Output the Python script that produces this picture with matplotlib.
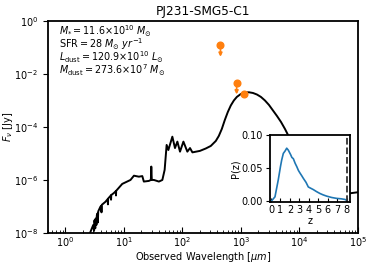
import matplotlib
matplotlib.use("Agg")
import matplotlib.pyplot as plt
from matplotlib.ticker import FixedLocator, NullLocator, LogLocator, LogFormatterMathtext

# SED model (observed wavelength in micron, flux in Jy)
sed_wave = [2.48, 2.69, 3.0, 3.1, 3.15, 3.25, 3.3, 3.4, 3.45, 3.55, 3.6, 3.65,
            3.98, 4.1, 4.15, 4.2, 4.85, 5.3, 5.35, 5.4, 6.0, 6.05, 6.1, 6.74,
            7.3, 7.35, 7.4, 9.4, 13.0, 14.9, 18.1, 20.7, 22.0, 26.8, 29.0,
            29.5, 30.1, 32.7, 39.8, 45.6, 49.9, 54.0, 57.8, 67.6, 75.0, 82.4,
            91.4, 104.5, 122, 135.5, 149, 200, 252, 307, 374, 421, 474, 534,
            601, 676, 762, 857, 1004, 1176, 1377, 1614, 1889, 2213, 2590,
            3034, 3553, 4160, 4873, 5706, 6423, 8810, 16000, 35000, 63000,
            107000]
sed_flux = [5.5e-9, 1.1e-8, 2.0e-8, 1.2e-8, 3.0e-8, 1.5e-8, 3.5e-8, 2.0e-8,
            4.5e-8, 5.5e-8, 2.5e-8, 6.5e-8, 9.8e-8, 1.05e-7, 6e-8, 1.15e-7,
            1.5e-7, 1.9e-7, 1.2e-7, 2.0e-7, 2.6e-7, 1.8e-7, 2.7e-7, 3.2e-7,
            3.8e-7, 2.6e-7, 3.9e-7, 7.1e-7, 1.0e-6, 1.45e-6, 1.33e-6, 1.4e-6,
            8.7e-7, 9.2e-7, 1.0e-6, 3.2e-6, 1.0e-6, 1.0e-6, 8.7e-7, 1.0e-6,
            2.4e-6, 2.1e-5, 1.35e-5, 4.3e-5, 1.6e-5, 2.8e-5, 1.17e-5, 2.8e-5,
            1.17e-5, 1.6e-5, 1.1e-5, 1.25e-5, 1.54e-5, 1.92e-5, 2.96e-5,
            4.57e-5, 8.4e-5, 1.84e-4, 3.68e-4, 6.5e-4, 1.0e-3, 1.36e-3,
            1.76e-3, 2.0e-3, 2.04e-3, 1.92e-3, 1.68e-3, 1.36e-3, 1.0e-3,
            6.8e-4, 4.2e-4, 2.6e-4, 1.55e-4, 8.4e-5, 5.0e-5, 1.76e-5, 3.7e-6,
            7.7e-7, 3.0e-7, 3.5e-7]

# photometry (upper limits and detection)
phot_wave = [450, 850, 1130]
phot_flux = [0.124, 4.7e-3, 1.76e-3]
phot_uplim = [True, True, False]

# redshift PDF
z_vals = [0.0, 0.07, 0.42, 0.77, 1.0, 1.13, 1.3, 1.5, 1.66, 1.83, 2.08, 2.2, 2.36,
          2.55, 2.72, 2.9, 3.07, 3.25, 3.42, 3.7, 3.94, 4.2, 4.47, 4.8, 5.18,
          5.5, 5.89, 6.4, 6.94, 7.4, 7.82, 8.0]
pz_vals = [0.0, 0.0, 0.006, 0.032, 0.052, 0.062, 0.072, 0.076, 0.080, 0.077,
           0.070, 0.066, 0.064, 0.057, 0.052, 0.046, 0.042, 0.038, 0.034,
           0.028, 0.021, 0.019, 0.017, 0.014, 0.011, 0.009, 0.007, 0.005,
           0.0036, 0.003, 0.002, 0.0005]
z_phot = 8.0

title = "PJ231-SMG5-C1"
info_lines = [r"$M_{*} = 11.6{\times}10^{10}\ M_{\odot}$",
              r"SFR$ = 28\ M_{\odot}\ yr^{-1}$",
              r"$L_{\rm dust} = 120.9{\times}10^{10}\ L_{\odot}$",
              r"$M_{\rm dust} = 273.6{\times}10^{7}\ M_{\odot}$"]

orange = "#ff7f0e"
blue = "#1f77b4"

fig = plt.figure(figsize=(3.73, 2.69), dpi=100)
ax = fig.add_axes([0.128, 0.134, 0.831, 0.788])
ax.plot(sed_wave, sed_flux, color="black", lw=1.4)
ax.set_xscale("log")
ax.set_yscale("log")
ax.set_xlim(0.5, 1e5)
ax.set_ylim(1e-8, 1)

for w, f, up in zip(phot_wave, phot_flux, phot_uplim):
    if up:
        ax.annotate("", xy=(w, f * 0.36), xytext=(w, f),
                    arrowprops=dict(arrowstyle="-|>", color=orange, lw=1.2,
                                    mutation_scale=5, shrinkA=0, shrinkB=0))
ax.plot(phot_wave, phot_flux, "o", color=orange, ms=4.8, zorder=5)

ax.yaxis.set_major_locator(FixedLocator([1e-8, 1e-6, 1e-4, 1e-2, 1]))
ax.yaxis.set_minor_locator(NullLocator())
ax.yaxis.set_major_formatter(LogFormatterMathtext())
ax.xaxis.set_major_locator(LogLocator(base=10, numticks=20))
ax.xaxis.set_minor_locator(LogLocator(base=10, subs=range(2, 10), numticks=20))
ax.tick_params(axis="x", which="both", direction="in", labelsize=7)
ax.tick_params(axis="x", which="major", length=4, width=0.8, pad=1.5)
ax.tick_params(axis="x", which="minor", length=2.5, width=0.6)
ax.tick_params(axis="y", which="major", direction="out", length=3.5, width=0.8,
               labelsize=7)
for s in ax.spines.values():
    s.set_linewidth(1.3)
ax.set_xlabel(r"Observed Wavelength [$\mu m$]", fontsize=7, labelpad=1)
ax.set_ylabel(r"$F_{\nu}$ [Jy]", fontsize=7)
ax.yaxis.set_label_coords(-0.105, 0.5)
ax.set_title(title, fontsize=8.7, pad=4)

for i, line in enumerate(info_lines):
    ax.text(0.037, 0.934 - i * 0.0613, line, transform=ax.transAxes,
            fontsize=6.9, va="baseline", ha="left")

# inset
ins = fig.add_axes([0.724, 0.250, 0.2145, 0.248])
ins.plot(z_vals, pz_vals, color=blue, lw=1.2)
ins.axvline(z_phot, color="#333333", ls="--", lw=1.3)
ins.set_xlim(-0.1, 8.35)
ins.set_ylim(-0.0015, 0.10)
ins.set_xticks(range(0, 9))
ins.set_yticks([0.0, 0.05, 0.10])
ins.set_yticklabels(["0.00", "0.05", "0.10"])
ins.tick_params(axis="x", direction="in", length=3, width=0.8, labelsize=7, pad=2)
ins.tick_params(axis="y", direction="out", length=3, width=0.8, labelsize=7, pad=2)
for s in ins.spines.values():
    s.set_linewidth(1.3)
ins.set_xlabel("z", fontsize=7, labelpad=1)
ins.set_ylabel("P(z)", fontsize=7, labelpad=1)

fig.savefig("out.png", dpi=100)
